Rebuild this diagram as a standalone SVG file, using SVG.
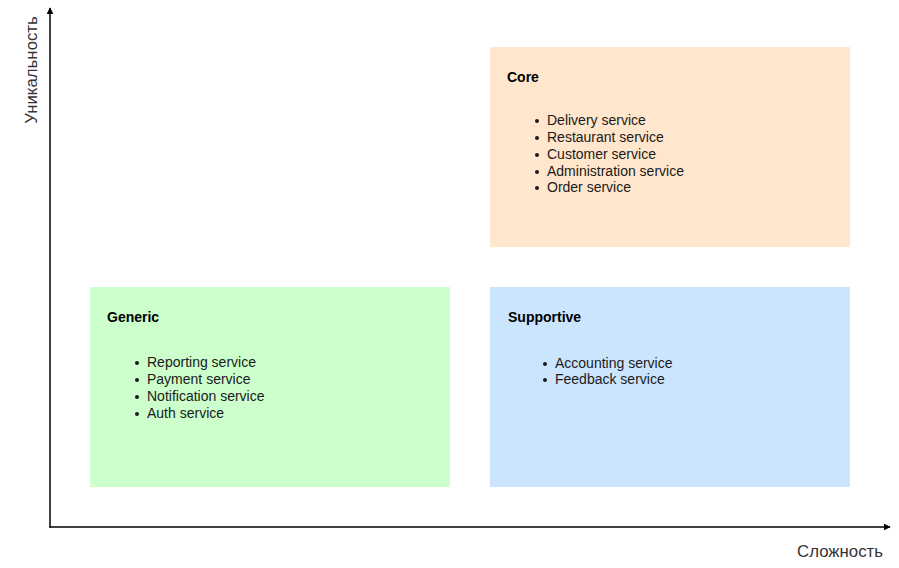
<svg xmlns="http://www.w3.org/2000/svg" width="899" height="568" viewBox="0 0 899 568">
  <style>
    .title { font-family: "Liberation Sans", Arial, sans-serif; font-size: 14px; font-weight: bold; fill: #000; }
    .item { font-family: "Liberation Sans", Arial, sans-serif; font-size: 14px; fill: #1a1a1a; }
    .axis-label { font-family: "Liberation Sans", Arial, sans-serif; font-size: 16.8px; fill: #333; }
    .axis { stroke: #000; stroke-width: 1.5; fill: none; }
    .bullet { fill: #1a1a1a; }
  </style>
  <defs>
    <marker id="arrow" viewBox="0 0 10 10" refX="9" refY="5" markerWidth="7" markerHeight="7" markerUnits="userSpaceOnUse" orient="auto">
      <path d="M0,0 L10,5 L0,10 Z" fill="#000"/>
    </marker>
  </defs>
  <rect width="899" height="568" fill="#fff"/>

  <g id="core">
    <rect x="490" y="47" width="360" height="200" fill="#ffe6cc"/>
    <text class="title" x="507" y="82">Core</text>
    <circle class="bullet" cx="537" cy="121" r="2"/>
    <circle class="bullet" cx="537" cy="138" r="2"/>
    <circle class="bullet" cx="537" cy="155" r="2"/>
    <circle class="bullet" cx="537" cy="172" r="2"/>
    <circle class="bullet" cx="537" cy="188" r="2"/>
    <text class="item" x="547" y="125">Delivery service</text>
    <text class="item" x="547" y="142">Restaurant service</text>
    <text class="item" x="547" y="159">Customer service</text>
    <text class="item" x="547" y="176">Administration service</text>
    <text class="item" x="547" y="192">Order service</text>
  </g>

  <g id="generic">
    <rect x="90" y="287" width="360" height="200" fill="#ccffcc"/>
    <text class="title" x="107" y="322">Generic</text>
    <circle class="bullet" cx="137" cy="363" r="2"/>
    <circle class="bullet" cx="137" cy="380" r="2"/>
    <circle class="bullet" cx="137" cy="397" r="2"/>
    <circle class="bullet" cx="137" cy="414" r="2"/>
    <text class="item" x="147" y="367">Reporting service</text>
    <text class="item" x="147" y="384">Payment service</text>
    <text class="item" x="147" y="401">Notification service</text>
    <text class="item" x="147" y="418">Auth service</text>
  </g>

  <g id="supportive">
    <rect x="490" y="287" width="360" height="200" fill="#cce5ff"/>
    <text class="title" x="508" y="322">Supportive</text>
    <circle class="bullet" cx="545" cy="364" r="2"/>
    <circle class="bullet" cx="545" cy="380" r="2"/>
    <text class="item" x="555" y="368">Accounting service</text>
    <text class="item" x="555" y="384">Feedback service</text>
  </g>

  <g id="connectors">
    <line class="axis" x1="50" y1="527.5" x2="50" y2="8" marker-end="url(#arrow)"/>
    <line class="axis" x1="49.25" y1="527" x2="890" y2="527" marker-end="url(#arrow)"/>
  </g>

  <g id="axis-labels">
    <text class="axis-label" x="0" y="0" text-anchor="middle" transform="translate(37,70) rotate(-90)">Уникальность</text>
    <text class="axis-label" x="883" y="557" text-anchor="end">Сложность</text>
  </g>
</svg>
